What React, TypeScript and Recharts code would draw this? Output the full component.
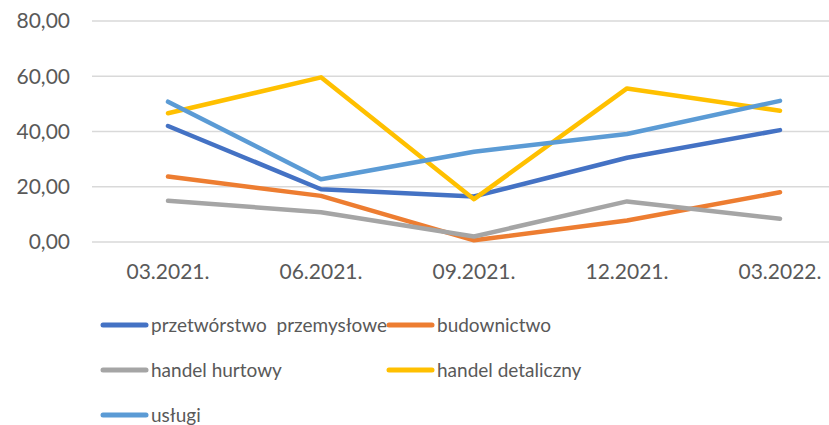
import { CartesianGrid, Legend, Line, LineChart, XAxis, YAxis } from "recharts";

const QUARTERS = ["03.2021.", "06.2021.", "09.2021.", "12.2021.", "03.2022."];
const PRZETWORSTWO = [42.0, 19.1, 16.5, 30.5, 40.5];
const BUDOWNICTWO = [23.7, 16.7, 0.6, 7.8, 18.0];
const HURTOWY = [14.9, 10.8, 2.0, 14.7, 8.4];
const DETALICZNY = [46.6, 59.6, 15.5, 55.6, 47.5];
const USLUGI = [50.8, 22.7, 32.7, 39.1, 51.1];
const Y_TICKS = [0, 20, 40, 60, 80];

const SERIES = [
  { key: "p", name: "przetwórstwo\u00a0\u00a0przemysłowe", color: "#4472C4", values: PRZETWORSTWO },
  { key: "b", name: "budownictwo", color: "#ED7D31", values: BUDOWNICTWO },
  { key: "h", name: "handel hurtowy", color: "#A5A5A5", values: HURTOWY },
  { key: "d", name: "handel detaliczny", color: "#FFC000", values: DETALICZNY },
  { key: "u", name: "usługi", color: "#5B9BD5", values: USLUGI },
];

const data = QUARTERS.map((q, i) => {
  const row: Record<string, string | number> = { q };
  SERIES.forEach((s) => (row[s.key] = s.values[i]));
  return row;
});

const FONT = "Lato, 'Open Sans', sans-serif";
const TEXT = "#595959";

function renderLegend() {
  return (
    <div
      style={{
        display: "grid",
        gridTemplateColumns: "286px 300px",
        fontFamily: FONT,
        fontSize: 19,
        color: TEXT,
        textAlign: "left",
      }}
    >
      {SERIES.map((s) => (
        <div key={s.key} style={{ display: "flex", alignItems: "center", height: 45 }}>
          <svg width={51} height={10} style={{ flexShrink: 0 }}>
            <line x1={3} y1={5} x2={46} y2={5} stroke={s.color} strokeWidth={5} strokeLinecap="round" />
          </svg>
          <span style={{ whiteSpace: "pre" }}>{s.name}</span>
        </div>
      ))}
    </div>
  );
}

export default function App() {
  return (
    <div style={{ position: "absolute", left: 0, top: 0, width: 829, height: 425, overflow: "hidden", background: "#fff" }}>
      <LineChart width={860} height={425} data={data} margin={{ top: 21, right: 4, left: 0, bottom: 143 }}>
        <CartesianGrid vertical={false} stroke="#D9D9D9" strokeWidth={1.5} />
        <XAxis
          dataKey="q"
          axisLine={false}
          tickLine={false}
          tickSize={0}
          tickMargin={22}
          height={40}
          interval={0}
          padding={{ left: 76, right: 76 }}
          tick={{ fill: TEXT, fontSize: 21, fontFamily: FONT }}
        />
        <YAxis
          domain={[0, 80]}
          ticks={Y_TICKS}
          axisLine={false}
          tickLine={false}
          tickSize={0}
          tickMargin={22}
          width={92}
          tickFormatter={(v: number) => v.toFixed(2).replace(".", ",")}
          tick={{ fill: TEXT, fontSize: 21, fontFamily: FONT }}
        />
        <Legend
          layout="horizontal"
          verticalAlign="middle"
          align="center"
          content={renderLegend}
          wrapperStyle={{ left: 100, top: 302, width: 640 }}
        />
        {SERIES.map((s) => (
          <Line
            key={s.key}
            dataKey={s.key}
            name={s.name}
            stroke={s.color}
            strokeWidth={4.5}
            strokeLinecap="round"
            strokeLinejoin="round"
            dot={false}
            isAnimationActive={false}
          />
        ))}
      </LineChart>
    </div>
  );
}
